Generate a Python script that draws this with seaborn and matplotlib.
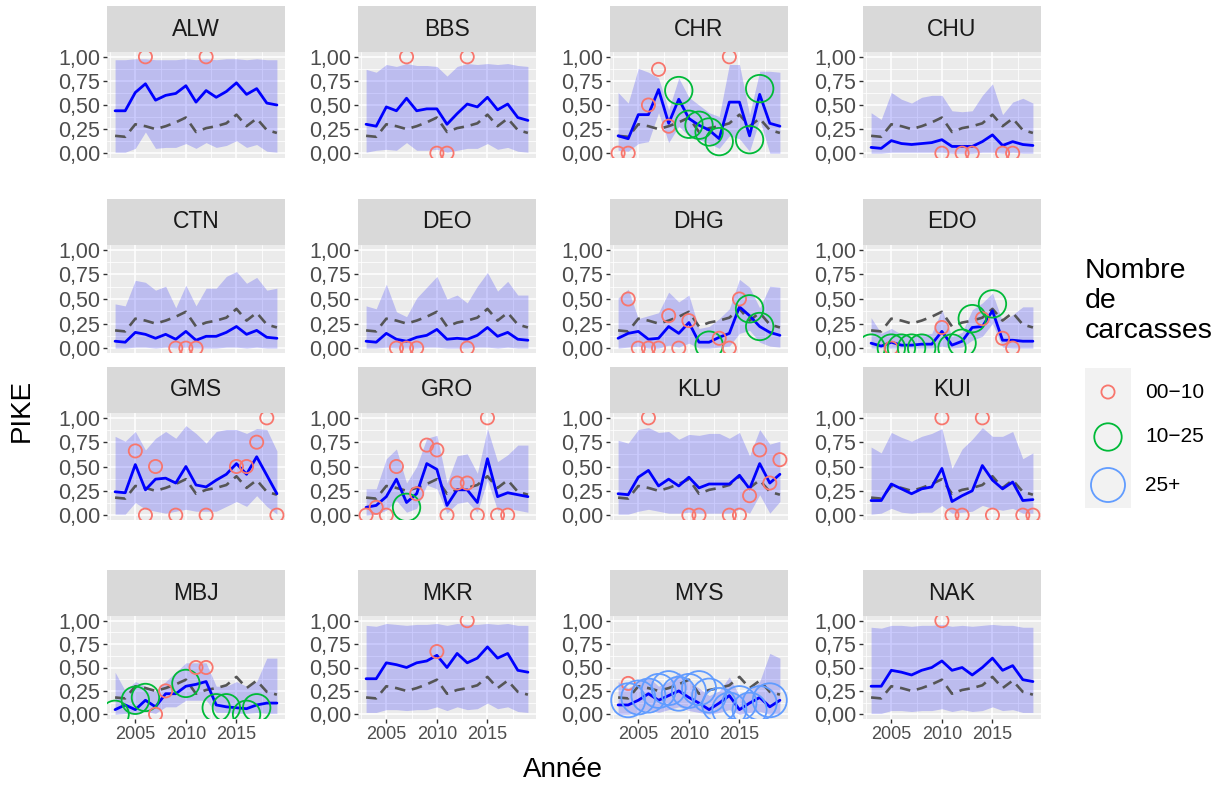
import matplotlib
matplotlib.use("Agg")
import matplotlib.pyplot as plt
import pandas as pd
import seaborn as sns
from matplotlib.patches import Rectangle

# ---------------------------------------------------------------- data
years = list(range(2003, 2020))
sites = ["ALW", "BBS", "CHR", "CHU", "CTN", "DEO", "DHG", "EDO",
         "GMS", "GRO", "KLU", "KUI", "MBJ", "MKR", "MYS", "NAK"]
classes = ["00\u221210", "10\u221225", "25+"]
S, M, L = classes

# continental trend (dashed line, same in every panel)
global_pike = [0.18, 0.17, 0.30, 0.28, 0.25, 0.28, 0.32, 0.37, 0.22,
               0.26, 0.28, 0.31, 0.40, 0.28, 0.36, 0.24, 0.21]

pike_ALW = [0.44, 0.44, 0.63, 0.72, 0.55, 0.60, 0.62, 0.70, 0.53, 0.65, 0.58, 0.64, 0.73, 0.61, 0.67, 0.52, 0.50]
low_ALW = [0.01, 0.01, 0.05, 0.22, 0.05, 0.06, 0.06, 0.10, 0.05, 0.11, 0.06, 0.08, 0.13, 0.06, 0.09, 0.02, 0.01]
high_ALW = [0.97, 0.97, 0.98, 0.98, 0.97, 0.97, 0.97, 0.98, 0.97, 0.98, 0.97, 0.98, 0.98, 0.97, 0.98, 0.97, 0.97]
obs_year_ALW = [2006, 2012]
obs_pike_ALW = [1.0, 1.0]
obs_n_ALW = [S, S]

pike_BBS = [0.30, 0.28, 0.48, 0.44, 0.57, 0.44, 0.46, 0.46, 0.30, 0.41, 0.51, 0.48, 0.58, 0.45, 0.51, 0.37, 0.34]
low_BBS = [0.01, 0.03, 0.04, 0.03, 0.11, 0.03, 0.03, 0.04, 0.01, 0.03, 0.05, 0.05, 0.10, 0.04, 0.06, 0.02, 0.01]
high_BBS = [0.87, 0.84, 0.92, 0.90, 0.93, 0.91, 0.91, 0.90, 0.80, 0.90, 0.93, 0.92, 0.93, 0.92, 0.93, 0.91, 0.90]
obs_year_BBS = [2007, 2010, 2011, 2013]
obs_pike_BBS = [1.0, 0.0, 0.0, 1.0]
obs_n_BBS = [S, S, S, S]

pike_CHR = [0.18, 0.15, 0.40, 0.40, 0.66, 0.31, 0.56, 0.36, 0.29, 0.24, 0.15, 0.53, 0.53, 0.18, 0.61, 0.31, 0.28]
low_CHR = [0.03, 0.02, 0.10, 0.12, 0.42, 0.11, 0.28, 0.18, 0.14, 0.10, 0.05, 0.18, 0.15, 0.02, 0.35, 0.00, 0.00]
high_CHR = [0.63, 0.52, 0.88, 0.84, 0.78, 0.45, 0.78, 0.58, 0.50, 0.42, 0.38, 0.92, 0.92, 0.40, 0.85, 0.85, 0.84]
obs_year_CHR = [2003, 2004, 2006, 2007, 2008, 2009, 2010, 2011, 2012, 2013, 2014, 2016, 2017]
obs_pike_CHR = [0.0, 0.0, 0.50, 0.87, 0.28, 0.65, 0.30, 0.29, 0.22, 0.12, 1.0, 0.14, 0.67]
obs_n_CHR = [S, S, S, S, S, M, M, M, M, M, S, M, M]

pike_CHU = [0.06, 0.05, 0.13, 0.10, 0.09, 0.10, 0.11, 0.14, 0.07, 0.07, 0.07, 0.12, 0.19, 0.08, 0.12, 0.09, 0.08]
low_CHU = [0.00, 0.00, 0.01, 0.01, 0.01, 0.01, 0.01, 0.01, 0.00, 0.00, 0.00, 0.01, 0.01, 0.00, 0.01, 0.00, 0.00]
high_CHU = [0.42, 0.35, 0.63, 0.56, 0.52, 0.58, 0.60, 0.60, 0.44, 0.43, 0.44, 0.60, 0.72, 0.40, 0.53, 0.57, 0.52]
obs_year_CHU = [2010, 2012, 2013, 2016, 2017]
obs_pike_CHU = [0.0, 0.0, 0.0, 0.0, 0.0]
obs_n_CHU = [S, S, S, S, S]

pike_CTN = [0.07, 0.06, 0.16, 0.14, 0.10, 0.14, 0.09, 0.17, 0.08, 0.12, 0.12, 0.16, 0.22, 0.14, 0.18, 0.11, 0.10]
low_CTN = [0.00, 0.00, 0.01, 0.01, 0.00, 0.01, 0.00, 0.01, 0.00, 0.00, 0.00, 0.01, 0.01, 0.00, 0.01, 0.00, 0.00]
high_CTN = [0.45, 0.43, 0.69, 0.67, 0.59, 0.63, 0.41, 0.64, 0.43, 0.61, 0.61, 0.73, 0.78, 0.66, 0.72, 0.59, 0.61]
obs_year_CTN = [2009, 2010, 2011]
obs_pike_CTN = [0.0, 0.0, 0.0]
obs_n_CTN = [S, S, S]

pike_DEO = [0.07, 0.06, 0.15, 0.09, 0.07, 0.11, 0.13, 0.19, 0.09, 0.10, 0.09, 0.13, 0.21, 0.12, 0.16, 0.09, 0.08]
low_DEO = [0.00, 0.00, 0.01, 0.00, 0.00, 0.00, 0.01, 0.01, 0.00, 0.00, 0.00, 0.01, 0.01, 0.00, 0.01, 0.00, 0.00]
high_DEO = [0.43, 0.40, 0.65, 0.37, 0.32, 0.51, 0.62, 0.73, 0.50, 0.54, 0.46, 0.63, 0.77, 0.58, 0.68, 0.54, 0.54]
obs_year_DEO = [2006, 2007, 2008, 2013]
obs_pike_DEO = [0.0, 0.0, 0.0, 0.0]
obs_n_DEO = [S, S, S, S]

pike_DHG = [0.10, 0.15, 0.17, 0.09, 0.10, 0.22, 0.15, 0.26, 0.06, 0.06, 0.11, 0.15, 0.42, 0.33, 0.22, 0.16, 0.13]
low_DHG = [0.00, 0.01, 0.02, 0.00, 0.00, 0.03, 0.01, 0.05, 0.00, 0.00, 0.01, 0.02, 0.15, 0.18, 0.06, 0.02, 0.01]
high_DHG = [0.51, 0.60, 0.30, 0.33, 0.36, 0.57, 0.47, 0.54, 0.20, 0.22, 0.30, 0.40, 0.70, 0.62, 0.41, 0.63, 0.62]
obs_year_DHG = [2004, 2005, 2006, 2007, 2008, 2009, 2010, 2012, 2013, 2014, 2015, 2016, 2017]
obs_pike_DHG = [0.50, 0.0, 0.0, 0.0, 0.33, 0.0, 0.28, 0.03, 0.10, 0.0, 0.50, 0.40, 0.22]
obs_n_DHG = [S, S, S, S, S, S, S, M, S, S, S, M, M]

pike_EDO = [0.05, 0.02, 0.06, 0.03, 0.03, 0.04, 0.04, 0.17, 0.03, 0.07, 0.21, 0.22, 0.38, 0.08, 0.08, 0.07, 0.07]
low_EDO = [0.00, 0.00, 0.00, 0.00, 0.00, 0.00, 0.00, 0.02, 0.00, 0.01, 0.08, 0.12, 0.25, 0.01, 0.00, 0.00, 0.00]
high_EDO = [0.31, 0.15, 0.20, 0.14, 0.12, 0.14, 0.15, 0.39, 0.12, 0.16, 0.39, 0.46, 0.56, 0.27, 0.34, 0.42, 0.42]
obs_year_EDO = [2003, 2005, 2005, 2006, 2007, 2008, 2010, 2011, 2012, 2013, 2014, 2015, 2016, 2017]
obs_pike_EDO = [0.0, 0.0, 0.0, 0.0, 0.0, 0.0, 0.21, 0.0, 0.05, 0.30, 0.30, 0.45, 0.10, 0.0]
obs_n_EDO = [M, S, M, M, M, M, S, M, M, M, S, M, S, S]

pike_GMS = [0.24, 0.23, 0.52, 0.26, 0.37, 0.38, 0.33, 0.50, 0.31, 0.29, 0.36, 0.42, 0.53, 0.42, 0.60, 0.41, 0.22]
low_GMS = [0.01, 0.01, 0.13, 0.06, 0.04, 0.02, 0.04, 0.06, 0.04, 0.04, 0.04, 0.09, 0.14, 0.09, 0.20, 0.09, 0.01]
high_GMS = [0.81, 0.76, 0.86, 0.67, 0.79, 0.86, 0.79, 0.92, 0.84, 0.74, 0.86, 0.88, 0.88, 0.84, 0.89, 0.88, 0.66]
obs_year_GMS = [2005, 2006, 2007, 2009, 2012, 2015, 2016, 2017, 2018, 2019]
obs_pike_GMS = [0.66, 0.0, 0.50, 0.0, 0.0, 0.50, 0.50, 0.75, 1.0, 0.0]
obs_n_GMS = [S] * 10

pike_GRO = [0.08, 0.10, 0.19, 0.37, 0.13, 0.22, 0.53, 0.47, 0.10, 0.26, 0.26, 0.13, 0.58, 0.19, 0.23, 0.21, 0.19]
low_GRO = [0.00, 0.01, 0.05, 0.15, 0.03, 0.07, 0.31, 0.27, 0.02, 0.12, 0.14, 0.03, 0.36, 0.05, 0.07, 0.05, 0.03]
high_GRO = [0.27, 0.27, 0.58, 0.68, 0.33, 0.50, 0.79, 0.82, 0.33, 0.61, 0.63, 0.43, 0.89, 0.55, 0.62, 0.72, 0.72]
obs_year_GRO = [2003, 2004, 2005, 2006, 2007, 2008, 2009, 2010, 2011, 2012, 2013, 2014, 2015, 2016, 2017]
obs_pike_GRO = [0.0, 0.08, 0.0, 0.50, 0.08, 0.22, 0.72, 0.67, 0.0, 0.33, 0.33, 0.0, 1.0, 0.0, 0.0]
obs_n_GRO = [S, S, S, S, M, S, S, S, S, S, S, S, S, S, S]

pike_KLU = [0.22, 0.21, 0.39, 0.46, 0.30, 0.37, 0.30, 0.39, 0.28, 0.32, 0.32, 0.32, 0.41, 0.27, 0.53, 0.33, 0.42]
low_KLU = [0.01, 0.01, 0.04, 0.06, 0.04, 0.02, 0.02, 0.03, 0.02, 0.02, 0.02, 0.02, 0.06, 0.02, 0.21, 0.02, 0.14]
high_KLU = [0.77, 0.74, 0.88, 0.90, 0.85, 0.86, 0.78, 0.83, 0.82, 0.84, 0.84, 0.79, 0.85, 0.61, 0.88, 0.73, 0.76]
obs_year_KLU = [2006, 2010, 2011, 2014, 2015, 2016, 2017, 2018, 2019]
obs_pike_KLU = [1.0, 0.0, 0.0, 0.0, 0.0, 0.20, 0.67, 0.33, 0.57]
obs_n_KLU = [S] * 9

pike_KUI = [0.15, 0.15, 0.32, 0.27, 0.22, 0.27, 0.29, 0.48, 0.14, 0.20, 0.25, 0.51, 0.36, 0.27, 0.34, 0.15, 0.16]
low_KUI = [0.01, 0.02, 0.07, 0.03, 0.02, 0.03, 0.03, 0.10, 0.02, 0.03, 0.04, 0.10, 0.07, 0.05, 0.07, 0.02, 0.02]
high_KUI = [0.70, 0.64, 0.85, 0.80, 0.76, 0.81, 0.84, 0.89, 0.48, 0.68, 0.78, 0.90, 0.81, 0.81, 0.86, 0.58, 0.64]
obs_year_KUI = [2010, 2011, 2012, 2014, 2015, 2018, 2019]
obs_pike_KUI = [1.0, 0.0, 0.0, 1.0, 0.0, 0.0, 0.0]
obs_n_KUI = [S] * 7

pike_MBJ = [0.05, 0.10, 0.05, 0.15, 0.08, 0.22, 0.22, 0.30, 0.32, 0.35, 0.10, 0.08, 0.07, 0.06, 0.10, 0.12, 0.12]
low_MBJ = [0.00, 0.01, 0.00, 0.03, 0.01, 0.08, 0.08, 0.15, 0.15, 0.15, 0.02, 0.02, 0.01, 0.01, 0.02, 0.01, 0.01]
high_MBJ = [0.45, 0.25, 0.35, 0.30, 0.25, 0.35, 0.45, 0.55, 0.55, 0.55, 0.30, 0.30, 0.35, 0.30, 0.35, 0.60, 0.60]
obs_year_MBJ = [2003, 2005, 2006, 2007, 2008, 2010, 2011, 2012, 2013, 2014, 2016, 2017]
obs_pike_MBJ = [0.0, 0.15, 0.18, 0.0, 0.25, 0.33, 0.50, 0.50, 0.07, 0.07, 0.0, 0.07]
obs_n_MBJ = [M, M, M, S, S, M, S, S, M, M, M, M]

pike_MKR = [0.38, 0.38, 0.55, 0.53, 0.50, 0.55, 0.57, 0.63, 0.50, 0.65, 0.55, 0.60, 0.72, 0.60, 0.65, 0.47, 0.45]
low_MKR = [0.02, 0.02, 0.05, 0.05, 0.04, 0.05, 0.05, 0.08, 0.04, 0.08, 0.05, 0.06, 0.12, 0.06, 0.08, 0.03, 0.02]
high_MKR = [0.95, 0.94, 0.97, 0.96, 0.95, 0.96, 0.96, 0.97, 0.95, 0.97, 0.96, 0.96, 0.97, 0.96, 0.97, 0.95, 0.95]
obs_year_MKR = [2010, 2013]
obs_pike_MKR = [0.67, 1.0]
obs_n_MKR = [S, S]

pike_MYS = [0.10, 0.10, 0.15, 0.22, 0.15, 0.20, 0.25, 0.18, 0.12, 0.05, 0.12, 0.20, 0.05, 0.12, 0.18, 0.08, 0.15]
low_MYS = [0.00, 0.00, 0.02, 0.05, 0.02, 0.05, 0.08, 0.04, 0.02, 0.00, 0.02, 0.05, 0.00, 0.02, 0.03, 0.00, 0.01]
high_MYS = [0.35, 0.28, 0.35, 0.40, 0.30, 0.35, 0.45, 0.35, 0.28, 0.20, 0.25, 0.40, 0.20, 0.25, 0.35, 0.65, 0.60]
obs_year_MYS = [2004, 2004, 2005, 2006, 2007, 2008, 2009, 2010, 2011, 2012, 2013, 2014, 2015, 2016, 2017, 2018]
obs_pike_MYS = [0.33, 0.15, 0.18, 0.20, 0.25, 0.28, 0.22, 0.25, 0.28, 0.20, 0.10, 0.05, 0.12, 0.05, 0.12, 0.15]
obs_n_MYS = [S, L, L, L, L, L, L, L, L, L, L, L, L, L, L, L]

pike_NAK = [0.30, 0.30, 0.47, 0.45, 0.42, 0.47, 0.50, 0.57, 0.47, 0.50, 0.42, 0.50, 0.60, 0.47, 0.52, 0.37, 0.35]
low_NAK = [0.01, 0.01, 0.04, 0.04, 0.03, 0.04, 0.04, 0.06, 0.03, 0.05, 0.03, 0.04, 0.08, 0.04, 0.05, 0.02, 0.02]
high_NAK = [0.93, 0.92, 0.95, 0.95, 0.94, 0.95, 0.95, 0.96, 0.94, 0.95, 0.94, 0.95, 0.96, 0.95, 0.95, 0.93, 0.93]
obs_year_NAK = [2010]
obs_pike_NAK = [1.0]
obs_n_NAK = [S]

# ---------------------------------------------------------------- tables
tables = {}
for s in sites:
    g = globals()
    line = pd.DataFrame({"year": years, "pike": g["pike_" + s],
                         "low": g["low_" + s], "high": g["high_" + s],
                         "trend": global_pike})
    obs = pd.DataFrame({"year": g["obs_year_" + s], "pike": g["obs_pike_" + s],
                        "n": pd.Categorical(g["obs_n_" + s], categories=classes)})
    tables[s] = (line, obs)

# ---------------------------------------------------------------- style
sns.set_theme(style="darkgrid")
plt.rcParams["font.family"] = ["Liberation Sans", "DejaVu Sans"]

palette = {S: "#F8766D", M: "#00BA38", L: "#619CFF"}
sizes = {S: 90, M: 390, L: 600}

W, H = 1224, 786
fig = plt.figure(figsize=(W / 100, H / 100), dpi=100)
fig.patch.set_facecolor("white")

col_left = [107, 358, 610, 863]
panel_w = 178
rows = [(52, 158), (245, 353), (413, 520), (616, 719)]
strip_h = 46


def px_axes(x0, y_top, w, h):
    return fig.add_axes([x0 / W, 1 - (y_top + h) / H, w / W, h / H])


for i, s in enumerate(sites):
    r, c = divmod(i, 4)
    top, bottom = rows[r]
    ax = px_axes(col_left[c], top, panel_w, bottom - top)
    line, obs = tables[s]

    ax.set_facecolor("#EBEBEB")
    ax.fill_between(line["year"], line["low"], line["high"],
                    color="blue", alpha=0.2, linewidth=0, zorder=2)
    sns.lineplot(data=line, x="year", y="trend", ax=ax, color="#555555",
                 linewidth=1.9, linestyle=(0, (4, 2.6)), zorder=3)
    sns.lineplot(data=line, x="year", y="pike", ax=ax, color="blue",
                 linewidth=2.0, zorder=4)
    n_before = len(ax.collections)
    sns.scatterplot(data=obs, x="year", y="pike", hue="n", size="n",
                    hue_order=classes, size_order=classes, palette=palette,
                    sizes=sizes, ax=ax, legend=False, linewidth=1.3, zorder=5)
    for coll in ax.collections[n_before:]:
        fc = coll.get_facecolors()
        coll.set_edgecolors(fc)
        coll.set_facecolors("none")

    ax.set_xlim(2002.2, 2019.8)
    ax.set_ylim(-0.05, 1.05)
    ax.set_yticks([0, 0.25, 0.5, 0.75, 1.0])
    ax.set_yticklabels(["0,00", "0,25", "0,50", "0,75", "1,00"])
    ax.set_yticks([0.125, 0.375, 0.625, 0.875], minor=True)
    ax.set_xticks([2005, 2010, 2015])
    ax.set_xticks([2002.5, 2007.5, 2012.5, 2017.5], minor=True)
    ax.grid(which="major", color="white", linewidth=1.1)
    ax.grid(which="minor", color="white", linewidth=0.55)
    ax.set_axisbelow(True)
    for sp in ax.spines.values():
        sp.set_visible(False)
    ax.set_xlabel("")
    ax.set_ylabel("")
    ax.tick_params(axis="y", which="major", length=3, width=1, color="#333333",
                   labelsize=15.5, labelcolor="#4D4D4D", pad=2, left=True)
    ax.tick_params(which="minor", length=0)
    if r == 3:
        ax.set_xticklabels(["2005", "2010", "2015"])
        ax.tick_params(axis="x", which="major", length=3, width=1, color="#333333",
                       labelsize=13, labelcolor="#4D4D4D", pad=2, bottom=True)
    else:
        ax.tick_params(axis="x", which="major", length=0, labelbottom=False)

    st = px_axes(col_left[c], top - strip_h, panel_w, strip_h)
    st.set_facecolor("#D9D9D9")
    st.set_xticks([])
    st.set_yticks([])
    for sp in st.spines.values():
        sp.set_visible(False)
    st.text(0.5, 0.5, s, ha="center", va="center", fontsize=16.5,
            color="#1A1A1A", transform=st.transAxes)

# axis titles
fig.text(22 / W, 1 - 410 / H, "PIKE", rotation=90, ha="center", va="center",
         fontsize=20, color="black")
fig.text(563 / W, 1 - 770 / H, "Année", ha="center", va="center",
         fontsize=20, color="black")

# legend
fig.text(1085 / W, 1 - 258 / H, "Nombre\nde\ncarcasses", ha="left", va="top",
         fontsize=20.5, color="black", linespacing=1.2)
leg = px_axes(1085, 368, 46, 140)
leg.add_patch(Rectangle((0, 0), 46, 140, facecolor="#F2F2F2", edgecolor="none"))
key_y = [24, 69, 117]
key_df = pd.DataFrame({"x": [23, 23, 23], "y": key_y,
                       "n": pd.Categorical(classes, categories=classes)})
sns.scatterplot(data=key_df, x="x", y="y", hue="n", size="n", hue_order=classes,
                size_order=classes, palette=palette, sizes=sizes, ax=leg,
                legend=False, linewidth=1.3)
for coll in leg.collections:
    fc = coll.get_facecolors()
    coll.set_edgecolors(fc)
    coll.set_facecolors("none")
leg.set_xlim(0, 46)
leg.set_ylim(140, 0)
leg.axis("off")
for yk, lab in zip(key_y, classes):
    fig.text(1145 / W, 1 - (368 + yk) / H, lab, ha="left", va="center",
             fontsize=15, color="black")

fig.savefig("out.png", dpi=100)
